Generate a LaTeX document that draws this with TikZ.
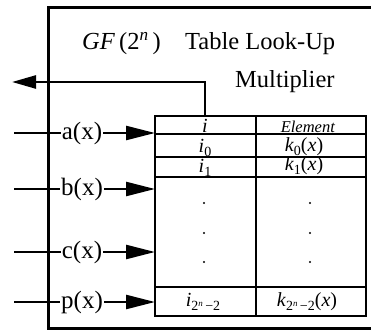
\documentclass[tikz,border=0pt]{standalone}
\usepackage{fontspec}
\setmainfont{Liberation Serif}
\usetikzlibrary{arrows.meta}
\newcommand{\lowsub}[1]{\raisebox{-0.45ex}{\fontsize{14}{14}\selectfont #1}}
\newcommand{\tinysup}[1]{\raisebox{0.55ex}{\fontsize{9}{9}\selectfont\textit{#1}}}
\begin{document}
\begin{tikzpicture}[x=1pt,y=-1pt,
  frame/.style={line width=3pt},
  grid/.style={line width=2.8pt},
  wire/.style={line width=2.5pt},
  inarrow/.style={wire,-{Triangle[length=29pt,width=14pt]}},
  outarrow/.style={wire,-{Triangle[length=24pt,width=13pt]}},
  sig/.style={inner xsep=1pt,inner ysep=0pt,font=\fontsize{25}{27}\selectfont},
  ttl/.style={anchor=base west,inner sep=0pt,font=\fontsize{24.5}{26}\selectfont},
  cell/.style={anchor=base,inner sep=0pt,font=\fontsize{20}{22}\selectfont},
  dot/.style={circle,fill=black,inner sep=0pt,minimum size=2.4pt}
]
\useasboundingbox (0,0) rectangle (371,331);
% outer box (right side falls outside the picture)
\draw[frame] (380,8) -- (48,8) -- (48,328) -- (380,328);
% title
\node[ttl] (gf) at (82,50) {\textit{GF}\,(2\textsuperscript{\textit{n}}\,)};
\node[ttl] (tlu) at (185,50) {Table Look-Up};
\node[ttl] (mul) at (235,88) {Multiplier};
% table
\coordinate (tnw) at (155,116);
\coordinate (tse) at (366,316);
\draw[grid] (tnw) rectangle (tse);
\draw[grid] (256,116) -- (256,316);
\foreach \yy in {134,157,177,287} \draw[grid] (155,\yy) -- (366,\yy);
% table texts
\node[cell] (hi) at (205,132) {\textit{i}};
\node[cell,font=\fontsize{16.5}{18}\selectfont] (hel) at (308,132) {\textit{Element}};
\node[cell] (ri0) at (205,152) {\textit{i}\lowsub{0}};
\node[cell] (rk0) at (304,151) {\textit{k}\lowsub{0}(\textit{x})};
\node[cell] (ri1) at (205,172) {\textit{i}\lowsub{1}};
\node[cell] (rk1) at (304,170) {\textit{k}\lowsub{1}(\textit{x})};
\foreach \yy/\nm in {203/a,233/b,262/c} {
  \node[dot] (dl\nm) at (204,\yy) {};
  \node[dot] (dr\nm) at (310,\yy) {};
}
\node[cell] (rin) at (203,306) {\textit{i}\lowsub{2\tinysup{n}\,−2}};
\node[cell] (rkn) at (307,306) {\textit{k}\lowsub{2\tinysup{n}\,−2}(\textit{x})};
% output arrow
\coordinate (otop) at (205,116);
\coordinate (ocorner) at (205,82);
\coordinate (oend) at (12,82);
\draw[outarrow] (otop) -- (ocorner) -- (oend);
% inputs
\foreach \nm/\yy in {a/133,b/189,c/252,p/302} {
  \coordinate (s\nm) at (14,\yy);
  \node[sig] (l\nm) at (82,\yy) {\nm(x)};
  \coordinate (e\nm) at (155,\yy);
  \draw[wire] (s\nm) -- (l\nm.west);
  \draw[inarrow] (l\nm.east) -- (e\nm);
}
\end{tikzpicture}
\end{document}
